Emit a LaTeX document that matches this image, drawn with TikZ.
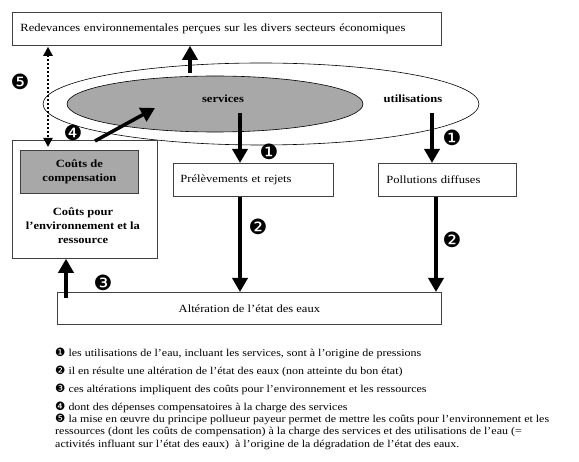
\documentclass[tikz,border=0pt]{standalone}
\usepackage{fontspec}
\setmainfont[FakeStretch=1.14]{Liberation Serif}
\newfontfamily\dingfont{DejaVu Sans}
\usetikzlibrary{arrows.meta,shapes.geometric,positioning}

\definecolor{grisbox}{RGB}{168,168,168}
\tikzset{
  txt/.style={font=\fontsize{11}{14}\selectfont},
  legtxt/.style={font=\fontsize{10.5}{12}\selectfont, anchor=base west, inner sep=0pt},
  bold/.style={font=\fontsize{11}{14}\selectfont\bfseries},
  box/.style={draw=black!75, line width=0.8pt, rectangle, inner sep=0pt, txt},
  big/.style={line width=3.5pt, -{Triangle[width=15pt,length=14pt]}},
  dots/.style={line width=2pt, dash pattern=on 2pt off 2pt,
    {Triangle[width=9pt,length=9pt]}-{Triangle[width=9pt,length=9pt]}},
  num/.style={font=\dingfont\fontsize{21}{21}\selectfont, inner sep=0pt},
}
\newcommand{\legnum}[1]{{\dingfont\fontsize{11.5}{11.5}\selectfont #1}}

\begin{document}
\begin{tikzpicture}[x=1pt,y=-1pt]
    \useasboundingbox (0,0) rectangle (579,462);
    % boxes and ellipses
    \node[box, anchor=north west, minimum width=429pt, minimum height=33pt,
      text width=413pt, align=left] (redev) at (12,12)
      {Redevances environnementales perçues sur les divers secteurs économiques};
    \node[draw, ellipse, line width=0.6pt, minimum width=436pt, minimum height=82pt] (uses) at (261,104) {};
    \node[draw, ellipse, line width=0.6pt, fill=grisbox, minimum width=296pt, minimum height=56pt] (svc) at (215,104) {};
    \node[bold] (svclab) at (223,99) {services};
    \node[bold] (uselab) at (413,99) {utilisations};
    \node[box, anchor=north west, minimum width=145pt, minimum height=118pt] (cout) at (12,140) {};
    \node[box, bold, fill=grisbox, anchor=north west, minimum width=118pt, minimum height=43pt,
      align=center] (comp) at (20,150) {Coûts de\\compensation};
    \node[bold, align=center] (env) at (83,226) {Coûts pour\\l’environnement et la\\ressource};
    \node[box, anchor=north west, minimum width=160pt, minimum height=33pt,
      text width=146pt, align=left] (prel) at (173,163) {Prélèvements et rejets};
    \node[box, anchor=north west, minimum width=138pt, minimum height=33pt,
      text width=122pt, align=left] (poll) at (378,163) {Pollutions diffuses};
    \node[box, anchor=north west, minimum width=384pt, minimum height=32pt] (alt) at (57,292)
      {Altération de l’état des eaux};
    % arrows
    \coordinate (r0) at (190,73);
    \coordinate (s1) at (240,113);
    \coordinate (u1) at (432,113);
    \coordinate (q2) at (436,196);
    \coordinate (c4) at (95,141);
    \coordinate (e4) at (155,108);
    \coordinate (a3) at (66,298);
    \coordinate (d5) at (48,48);
    \draw[big] (r0) -- (r0 |- redev.south);
    \draw[big] (s1) -- (s1 |- prel.north);
    \draw[big] (u1) -- (u1 |- poll.north);
    \draw[big] (s1 |- prel.south) -- (s1 |- alt.north);
    \draw[big] (q2 |- poll.south) -- (q2 |- alt.north);
    \draw[big] (c4) -- (e4);
    \draw[big] (a3) -- (a3 |- cout.south);
    \draw[dots, shorten >=-7pt, shorten <=1pt] (d5 |- redev.south) -- (d5 |- cout.north);
    % numbers
    \node[num] (n1a) at (269,152) {❶};
    \node[num] (n1b) at (452,138) {❶};
    \node[num] (n2a) at (258,227) {❷};
    \node[num] (n2b) at (452,240) {❷};
    \node[num] (n3) at (103,283) {❸};
    \node[num] (n4) at (73,133) {❹};
    \node[num] (n5) at (20,82) {❺};
    % legend
    \node[legtxt] (leg1) at (55,357)
      {\legnum{❶} les utilisations de l’eau, incluant les services, sont à l’origine de pressions};
    \node[legtxt] (leg2) at (55,375)
      {\legnum{❷} il en résulte une altération de l’état des eaux (non atteinte du bon état)};
    \node[legtxt] (leg3) at (55,393)
      {\legnum{❸} ces altérations impliquent des coûts pour l’environnement et les ressources};
    \node[legtxt] (leg4) at (55,411)
      {\legnum{❹} dont des dépenses compensatoires à la charge des services};
    \node[legtxt] (leg5) at (55,423)
      {\legnum{❺} la mise en œuvre du principe pollueur payeur permet de mettre les coûts pour l’environnement et les};
    \node[legtxt] (leg6) at (55,435)
      {ressources (dont les coûts de compensation) à la charge des services et des utilisations de l’eau (=};
    \node[legtxt] (leg7) at (55,448)
      {activités influant sur l’état des eaux) \ à l’origine de la dégradation de l’état des eaux.};
\end{tikzpicture}
\end{document}
